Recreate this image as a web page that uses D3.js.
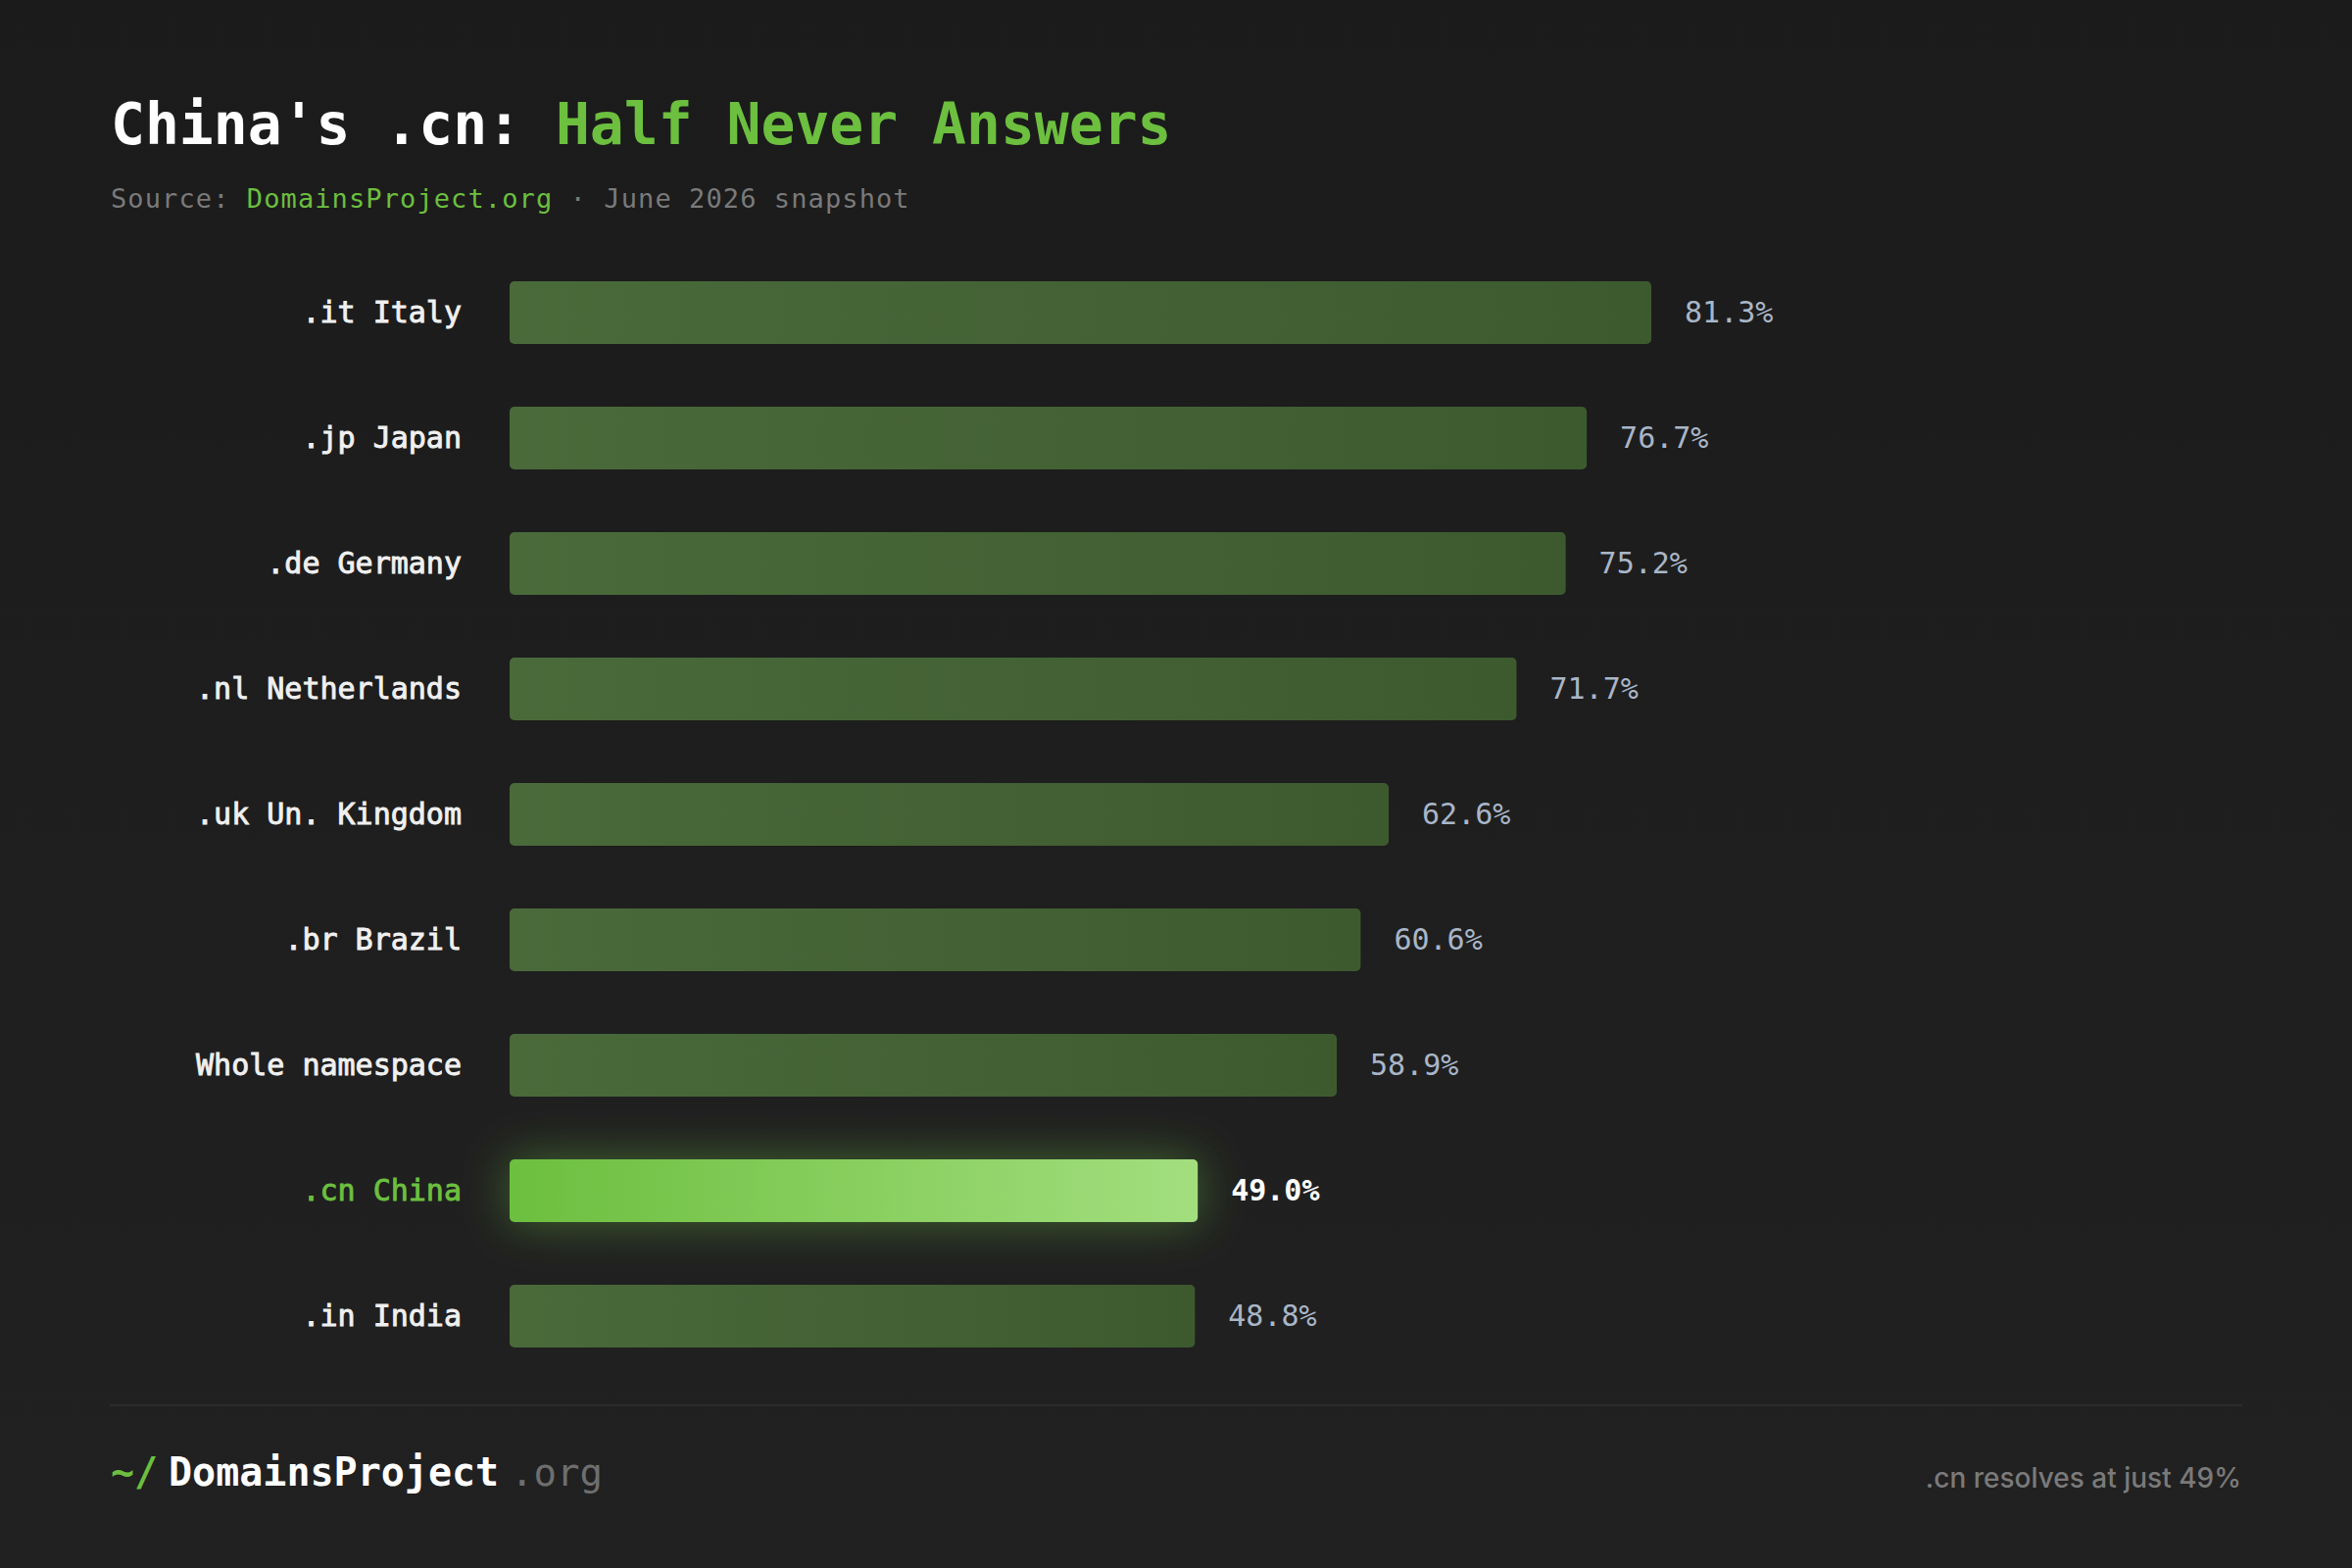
<!DOCTYPE html>
<html>
<head>
<meta charset="utf-8">
<script src="https://cdn.jsdelivr.net/npm/d3@7"></script>
<style>
  body { margin: 0; background: #1e1e1e; }
  svg { display: block; }
</style>
</head>
<body>
<div id="chart-area"></div>
<script>
// data
var labels = [".it Italy", ".jp Japan", ".de Germany", ".nl Netherlands", ".uk Un. Kingdom",
  ".br Brazil", "Whole namespace", ".cn China", ".in India"];
var values = [81.3, 76.7, 75.2, 71.7, 62.6, 60.6, 58.9, 49.0, 48.8];
var highlight = ".cn China";

var W = 2400, H = 1600;
var mono = "'DejaVu Sans Mono', 'Liberation Mono', monospace";
var green = "#6cbf3f";

var data = labels.map((d, i) => ({label: d, value: values[i]}));

var svg = d3.select("#chart-area").append("svg")
    .attr("width", W)
    .attr("height", H);

var defs = svg.append("defs");

// background
var bg = defs.append("linearGradient")
  .attr("id", "bg").attr("x1", 0).attr("y1", 0).attr("x2", 0).attr("y2", 1);
bg.append("stop").attr("offset", "0%").attr("stop-color", "#1b1b1b");
bg.append("stop").attr("offset", "100%").attr("stop-color", "#212121");

var barGrad = defs.append("linearGradient")
  .attr("id", "barGrad").attr("x1", 0).attr("x2", 1).attr("y1", 0).attr("y2", 0);
barGrad.append("stop").attr("offset", "0%").attr("stop-color", "#4a6a3a");
barGrad.append("stop").attr("offset", "100%").attr("stop-color", "#3d5a2f");

var hiGrad = defs.append("linearGradient")
  .attr("id", "hiGrad").attr("x1", 0).attr("x2", 1).attr("y1", 0).attr("y2", 0);
hiGrad.append("stop").attr("offset", "0%").attr("stop-color", "#6cbf3f");
hiGrad.append("stop").attr("offset", "100%").attr("stop-color", "#a3de7e");

var glow = defs.append("filter")
  .attr("id", "glow")
  .attr("x", "-30%").attr("y", "-150%")
  .attr("width", "160%").attr("height", "400%");
glow.append("feDropShadow")
  .attr("dx", 0).attr("dy", 0)
  .attr("stdDeviation", 24)
  .attr("flood-color", green)
  .attr("flood-opacity", 0.45);

svg.append("rect")
  .attr("width", W).attr("height", H)
  .attr("fill", "url(#bg)");

// title
var title = svg.append("text")
  .attr("x", 113)
  .attr("y", 147)
  .attr("font-family", mono)
  .attr("font-weight", "bold")
  .attr("font-size", "58px")
  .attr("fill", "#ffffff");
title.append("tspan").text("China's .cn: ");
title.append("tspan").attr("fill", green).text("Half Never Answers");

// subtitle
var sub = svg.append("text")
  .attr("x", 113)
  .attr("y", 212)
  .attr("font-family", mono)
  .attr("font-size", "27px")
  .attr("letter-spacing", "1.1px")
  .attr("fill", "#7a7a7a");
sub.append("tspan").text("Source: ");
sub.append("tspan").attr("fill", green).text("DomainsProject.org");
sub.append("tspan").text(" · June 2026 snapshot");

// scales
var x = d3.scaleLinear()
  .domain([0, 100])
  .range([520, 1953]);

var y = d3.scaleBand()
  .domain(labels)
  .range([255, 1407])
  .paddingInner(0.5)
  .paddingOuter(0.25);

var rows = svg.selectAll("g.row")
  .data(data)
  .enter().append("g")
    .attr("class", "row");

rows.append("rect")
  .attr("x", x(0))
  .attr("y", d => y(d.label))
  .attr("width", d => x(d.value) - x(0))
  .attr("height", y.bandwidth())
  .attr("rx", 5)
  .attr("fill", d => d.label == highlight ? "url(#hiGrad)" : "url(#barGrad)")
  .attr("filter", d => d.label == highlight ? "url(#glow)" : null);

// category labels (regular weight thickened a bit to look medium)
rows.append("text")
  .attr("x", x(0) - 49)
  .attr("y", d => y(d.label) + y.bandwidth() / 2 + 10)
  .attr("text-anchor", "end")
  .attr("font-family", mono)
  .attr("font-size", "30px")
  .attr("fill", d => d.label == highlight ? green : "#f0f0f0")
  .attr("stroke", d => d.label == highlight ? green : "#f0f0f0")
  .attr("stroke-width", 0.9)
  .text(d => d.label);

// value labels
rows.append("text")
  .attr("x", d => x(d.value) + 34)
  .attr("y", d => y(d.label) + y.bandwidth() / 2 + 10)
  .attr("font-family", mono)
  .attr("font-weight", d => d.label == highlight ? "bold" : "normal")
  .attr("font-size", "30px")
  .attr("fill", d => d.label == highlight ? "#ffffff" : "#a9b6c8")
  .text(d => d.value.toFixed(1) + "%");

// footer
svg.append("line")
  .attr("x1", 112).attr("x2", 2288)
  .attr("y1", 1434).attr("y2", 1434)
  .attr("stroke", "#2c2c2c")
  .attr("stroke-width", 2);

svg.append("text")
  .attr("x", 113).attr("y", 1516)
  .attr("font-family", mono)
  .attr("font-weight", "bold")
  .attr("font-size", "40px")
  .attr("fill", green)
  .text("~/");

svg.append("text")
  .attr("x", 172).attr("y", 1516)
  .attr("font-family", mono)
  .attr("font-weight", "bold")
  .attr("font-size", "40px")
  .attr("fill", "#ffffff")
  .text("DomainsProject");

svg.append("text")
  .attr("x", 521).attr("y", 1516)
  .attr("font-family", mono)
  .attr("font-size", "39px")
  .attr("fill", "#6e6e6e")
  .text(".org");

svg.append("text")
  .attr("x", 2287).attr("y", 1518)
  .attr("text-anchor", "end")
  .attr("font-family", "Inter, 'Noto Sans', sans-serif")
  .attr("font-weight", 500)
  .attr("font-size", "28px")
  .attr("fill", "#7a7a7a")
  .text(".cn resolves at just 49%");
</script>
</body>
</html>
